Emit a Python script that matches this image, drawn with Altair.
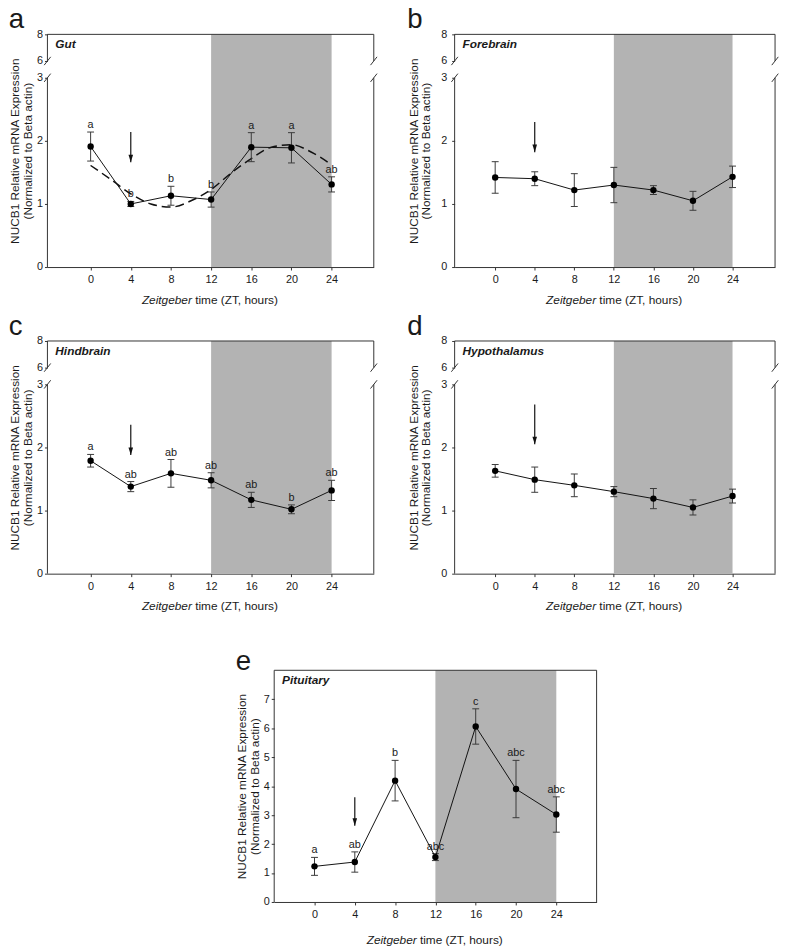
import altair as alt
import pandas as pd

# ---------------- data ----------------
ZT = [0, 4, 8, 12, 16, 20, 24]
NIGHT = [12, 24]
ARROW_ZT = 4

GUT_MEAN = [1.91, 1.00, 1.13, 1.07, 1.90, 1.89, 1.31]
GUT_ERR = [0.23, 0.04, 0.15, 0.12, 0.23, 0.24, 0.12]
GUT_SIG = ["a", "b", "b", "b", "a", "a", "ab"]
GUT_FIT_T = [0, 2, 4, 6, 8, 10, 12, 14, 16, 18, 20, 22, 24]
GUT_FIT = [1.61, 1.39, 1.16, 1.00, 0.95, 1.05, 1.23, 1.49, 1.72, 1.90, 1.94, 1.82, 1.62]
GUT_ARROW = [2.14, 1.66]

FORE_MEAN = [1.42, 1.40, 1.22, 1.30, 1.22, 1.05, 1.43]
FORE_ERR = [0.25, 0.11, 0.26, 0.28, 0.07, 0.15, 0.17]
FORE_ARROW = [2.30, 1.82]

HIND_MEAN = [1.79, 1.38, 1.59, 1.48, 1.17, 1.02, 1.32]
HIND_ERR = [0.10, 0.08, 0.22, 0.12, 0.12, 0.07, 0.16]
HIND_SIG = ["a", "ab", "ab", "ab", "ab", "b", "ab"]
HIND_ARROW = [2.36, 1.88]

HYPO_MEAN = [1.63, 1.49, 1.40, 1.30, 1.19, 1.05, 1.23]
HYPO_ERR = [0.10, 0.20, 0.18, 0.08, 0.16, 0.12, 0.11]
HYPO_ARROW = [2.68, 2.05]

PIT_MEAN = [1.23, 1.38, 4.19, 1.55, 6.06, 3.90, 3.02]
PIT_ERR = [0.31, 0.35, 0.70, 0.12, 0.61, 0.99, 0.61]
PIT_SIG = ["a", "ab", "b", "abc", "c", "abc", "abc"]
PIT_ARROW = [3.62, 2.63]

BROKEN_TICKS = [0, 1, 2, 3, 6, 8]
FULL_TICKS = [0, 1, 2, 3, 4, 5, 6, 7]
Y_TITLE = ["NUCB1 Relative mRNA Expression", "(Normalized to Beta actin)"]
X_TITLE_ITALIC = "Zeitgeber"
X_TITLE_REST = "time (ZT, hours)"

# ---------------- styling ----------------
FONT = "Liberation Sans"
AX = "#333333"
TXT = "#1a1a1a"
SHADE = "#b3b3b3"

# broken axis: 0-3 drawn at full scale, 6-8 compressed above a gap
GAP_D = 0.266
UPPER_K = 0.211


def disp(v):
    if v <= 3:
        return v
    return 3 + GAP_D + (v - 6) * UPPER_K


def panel(letter, tissue, mean, err, sig, arrow, xdom, w, h, broken,
          fit=None, title_pad=2, label_pad=2, xt_dy=33, letter_offset=-28):
    xmin, xmax = xdom
    if broken:
        ytop = disp(8)
        yticks = [disp(v) for v in BROKEN_TICKS]
        lab = ("datum.value > 3.5 ? '8' : (datum.value > 3.1 ? '6' : '' + round(datum.value))")
    else:
        ytop = 8
        yticks = FULL_TICKS
        lab = "'' + round(datum.value)"

    xs = alt.Scale(domain=[xmin, xmax], nice=False, zero=False)
    ys = alt.Scale(domain=[0, ytop], nice=False, zero=False)

    xaxis = alt.Axis(values=ZT, title=None, grid=False, domain=True, domainColor=AX,
                     domainWidth=1, ticks=True, tickColor=AX, tickSize=3,
                     labelFont=FONT, labelFontSize=11, labelColor=TXT, labelPadding=4)
    yaxis = alt.Axis(values=yticks, title=Y_TITLE, grid=False, domain=False,
                     ticks=True, tickColor=AX, tickSize=3, labelExpr=lab,
                     labelFont=FONT, labelFontSize=11, labelColor=TXT, labelPadding=label_pad,
                     titleFont=FONT, titleFontSize=12, titleFontWeight="normal",
                     titleColor=TXT, titleLineHeight=13, titlePadding=title_pad)

    def X(f):
        return alt.X(f, type="quantitative", scale=xs, axis=xaxis)

    def Y(f):
        return alt.Y(f, type="quantitative", scale=ys, axis=yaxis)

    df = pd.DataFrame({
        "zt": ZT,
        "mean": mean,
        "lo": [m - e for m, e in zip(mean, err)],
        "hi": [m + e for m, e in zip(mean, err)],
        "sig": sig if sig else [""] * len(ZT),
    })

    shade_df = pd.DataFrame({"x0": [NIGHT[0]], "x1": [NIGHT[1]], "y0": [0.0], "y1": [ytop]})
    shade = alt.Chart(shade_df).mark_rect(color=SHADE, opacity=1).encode(
        x=X("x0"), x2="x1", y=Y("y0"), y2="y1")

    layers = [shade]

    if fit is not None:
        fdf = pd.DataFrame({"t": fit[0], "v": fit[1]})
        layers.append(alt.Chart(fdf).mark_line(color="#111111", strokeWidth=1.5,
                                               strokeDash=[9, 5], interpolate="monotone")
                      .encode(x=X("t"), y=Y("v")))

    base = alt.Chart(df)
    layers.append(base.mark_rule(color="#3a3a3a", strokeWidth=1).encode(
        x=X("zt"), y=Y("lo"), y2="hi"))
    layers.append(base.mark_tick(orient="horizontal", size=7, thickness=1, color="#3a3a3a",
                                 opacity=1).encode(x=X("zt"), y=Y("lo")))
    layers.append(base.mark_tick(orient="horizontal", size=7, thickness=1, color="#3a3a3a",
                                 opacity=1).encode(x=X("zt"), y=Y("hi")))
    layers.append(base.mark_line(color="#111111", strokeWidth=1).encode(x=X("zt"), y=Y("mean")))
    layers.append(base.mark_circle(size=42, color="#000000", opacity=1).encode(
        x=X("zt"), y=Y("mean")))
    if sig:
        layers.append(base.mark_text(font=FONT, fontSize=11, color=TXT, baseline="alphabetic",
                                     dy=-4).encode(x=X("zt"), y=Y("hi"), text="sig:N"))

    # arrow
    adf = pd.DataFrame({"x": [ARROW_ZT], "y0": [arrow[0]], "y1": [arrow[1]]})
    layers.append(alt.Chart(adf).mark_rule(color="#111111", strokeWidth=1.2).encode(
        x=X("x"), y=Y("y0"), y2="y1"))
    layers.append(alt.Chart(adf).mark_point(shape="M-0.6,-2L0.6,-2L0,0Z", size=60, filled=True,
                                            color="#111111", opacity=1).encode(
        x=X("x"), y=Y("y1")))

    # frame
    px_x = (xmax - xmin) / w
    px_y = ytop / h
    sx, sy = 3.3 * px_x, 4.2 * px_y
    segs = []
    if broken:
        d6, d8 = disp(6), disp(8)
        for xe in (xmin, xmax):
            segs.append((xe, 0, xe, 3))
            segs.append((xe, d6, xe, d8))
            segs.append((xe - sx, 3 - sy, xe + sx, 3 + sy))
            segs.append((xe - sx, d6 - sy, xe + sx, d6 + sy))
        segs.append((xmin, d8, xmax, d8))
    else:
        segs.append((xmin, 0, xmin, ytop))
        segs.append((xmax, 0, xmax, ytop))
        segs.append((xmin, ytop, xmax, ytop))
    sdf = pd.DataFrame(segs, columns=["x0", "y0", "x1", "y1"])
    layers.append(alt.Chart(sdf).mark_rule(color=AX, strokeWidth=1).encode(
        x=X("x0"), x2="x1", y=Y("y0"), y2="y1"))

    # tissue label
    tdf = pd.DataFrame({"x": [xmin], "y": [ytop], "t": [tissue]})
    layers.append(alt.Chart(tdf).mark_text(font=FONT, fontSize=12, fontWeight="bold",
                                           fontStyle="italic", align="left", baseline="middle",
                                           dx=8, dy=10, color=TXT)
                  .encode(x=X("x"), y=Y("y"), text="t:N"))

    # x title with italic first word
    cx = (xmin + xmax) / 2
    xdf = pd.DataFrame({"x": [cx], "y": [0.0], "a": [X_TITLE_ITALIC], "b": [X_TITLE_REST]})
    layers.append(alt.Chart(xdf).mark_text(font=FONT, fontSize=12, fontStyle="italic",
                                           align="right", baseline="middle", dx=-19,
                                           dy=xt_dy, color=TXT)
                  .encode(x=X("x"), y=Y("y"), text="a:N"))
    layers.append(alt.Chart(xdf).mark_text(font=FONT, fontSize=12, align="left",
                                           baseline="middle", dx=-15.7, dy=xt_dy, color=TXT)
                  .encode(x=X("x"), y=Y("y"), text="b:N"))

    return alt.layer(*layers).properties(
        width=w, height=h,
        title=alt.TitleParams(text=letter, anchor="start", frame="bounds", fontSize=28,
                              font=FONT, fontWeight="normal", color=TXT, offset=letter_offset,
                              baseline="alphabetic"))


pa = panel("a", "Gut", GUT_MEAN, GUT_ERR, GUT_SIG, GUT_ARROW, [-4.3, 28.2], 331, 236, True,
           fit=(GUT_FIT_T, GUT_FIT))
pb = panel("b", "Forebrain", FORE_MEAN, FORE_ERR, None, FORE_ARROW, [-4.1, 28.3], 325, 236, True,
           title_pad=8, label_pad=5)
pc = panel("c", "Hindbrain", HIND_MEAN, HIND_ERR, HIND_SIG, HIND_ARROW, [-4.3, 28.2], 331, 236, True)
pd_ = panel("d", "Hypothalamus", HYPO_MEAN, HYPO_ERR, None, HYPO_ARROW, [-4.1, 28.3], 325, 236, True,
            title_pad=8, label_pad=5)
pe = panel("e", "Pituitary", PIT_MEAN, PIT_ERR, PIT_SIG, PIT_ARROW, [-4, 28], 327, 235, False,
           xt_dy=39, letter_offset=-28)

spacer = alt.Chart(pd.DataFrame({"v": [0]})).mark_point(opacity=0).encode(
    x=alt.X("v:Q", axis=None), y=alt.Y("v:Q", axis=None)).properties(width=190, height=10)

row1 = alt.hconcat(pa, pb, spacing=29)
row2 = alt.hconcat(pc, pd_, spacing=29)
row3 = alt.hconcat(spacer, pe, spacing=0)

top = alt.vconcat(row1, row2, spacing=8)
chart = alt.vconcat(top, row3, spacing=36).properties(
    padding={"left": 0, "top": -8, "right": 0, "bottom": 0}, background="white"
).configure_view(stroke=None)

chart.save("out.html", embed_options={"renderer": "svg", "actions": False})
